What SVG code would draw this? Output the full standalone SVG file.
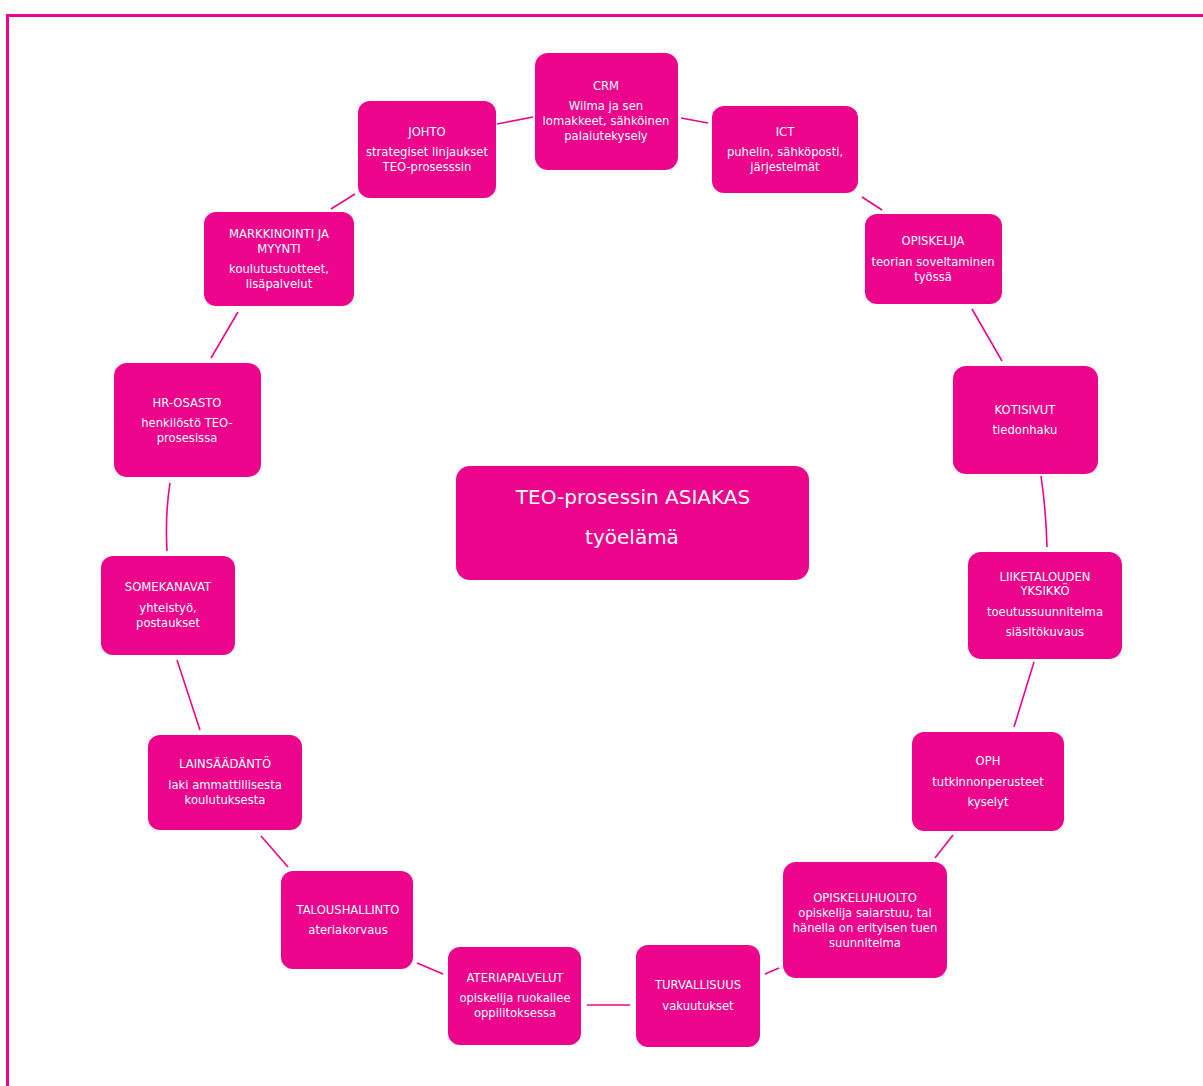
<svg xmlns="http://www.w3.org/2000/svg" width="1203" height="1086" viewBox="0 0 1203 1086">
<style>
.n{fill:#EC058C;}
.t{fill:#ffffff;font-family:"DejaVu Sans",sans-serif;font-size:11.6px;text-anchor:middle;}
.c{fill:#ffffff;font-family:"DejaVu Sans",sans-serif;font-size:20px;text-anchor:middle;}
.e{stroke:#EC058C;stroke-width:1.6;fill:none;}
</style>
<rect x="0" y="0" width="1203" height="1086" fill="#ffffff"/>
<path d="M7.5 1086 V15.5 H1203" stroke="#EC058C" stroke-width="3" fill="none"/>
<g id="connectors">
<line class="e" x1="497" y1="124" x2="533" y2="117"/>
<line class="e" x1="681" y1="118" x2="708" y2="123"/>
<line class="e" x1="862" y1="197" x2="882" y2="210"/>
<line class="e" x1="972" y1="309" x2="1002" y2="361"/>
<path class="e" d="M1041 476 Q1046 510 1047 547"/>
<line class="e" x1="1034" y1="662" x2="1014" y2="727"/>
<line class="e" x1="953" y1="835" x2="935" y2="858"/>
<line class="e" x1="779" y1="968" x2="765" y2="974"/>
<line class="e" x1="587" y1="1005" x2="630" y2="1005"/>
<line class="e" x1="417" y1="963" x2="443" y2="974"/>
<line class="e" x1="261" y1="836" x2="288" y2="867"/>
<line class="e" x1="177" y1="660" x2="200" y2="730"/>
<path class="e" d="M170 483 Q165 515 167 551"/>
<line class="e" x1="211" y1="358" x2="238" y2="312"/>
<line class="e" x1="331" y1="209" x2="355" y2="194"/>
</g>
<g id="center">
<rect class="n" x="456" y="466" width="353" height="114" rx="14"/>
<text class="c" x="633" y="504">TEO-prosessin ASIAKAS</text>
<text class="c" x="632" y="544">työelämä</text>
</g>
<g id="crm">
<rect class="n" x="535" y="53" width="143" height="117" rx="13"/>
<text class="t" x="606" y="90">CRM</text>
<text class="t" x="606" y="110">Wilma ja sen</text>
<text class="t" x="606" y="125">lomakkeet, sähköinen</text>
<text class="t" x="606" y="140">palaiutekysely</text>
</g>
<g id="johto">
<rect class="n" x="358" y="101" width="138" height="97" rx="12"/>
<text class="t" x="427" y="136">JOHTO</text>
<text class="t" x="427" y="156">strategiset linjaukset</text>
<text class="t" x="427" y="171">TEO-prosesssin</text>
</g>
<g id="ict">
<rect class="n" x="712" y="106" width="146" height="87" rx="12"/>
<text class="t" x="785" y="136">ICT</text>
<text class="t" x="785" y="156">puhelin, sähköposti,</text>
<text class="t" x="785" y="171">järjestelmät</text>
</g>
<g id="markkinointi">
<rect class="n" x="204" y="212" width="150" height="94" rx="12"/>
<text class="t" x="279" y="238">MARKKINOINTI JA</text>
<text class="t" x="279" y="253">MYYNTI</text>
<text class="t" x="279" y="273">koulutustuotteet,</text>
<text class="t" x="279" y="288">lisäpalvelut</text>
</g>
<g id="opiskelija">
<rect class="n" x="865" y="214" width="137" height="90" rx="12"/>
<text class="t" x="933" y="245">OPISKELIJA</text>
<text class="t" x="933" y="266">teorian soveltaminen</text>
<text class="t" x="933" y="281">työssä</text>
</g>
<g id="hr">
<rect class="n" x="114" y="363" width="147" height="114" rx="13"/>
<text class="t" x="187" y="407">HR-OSASTO</text>
<text class="t" x="187" y="427">henkilöstö TEO-</text>
<text class="t" x="187" y="442">prosesissa</text>
</g>
<g id="kotisivut">
<rect class="n" x="953" y="366" width="145" height="108" rx="13"/>
<text class="t" x="1025" y="414">KOTISIVUT</text>
<text class="t" x="1025" y="434">tiedonhaku</text>
</g>
<g id="somekanavat">
<rect class="n" x="101" y="556" width="134" height="99" rx="12"/>
<text class="t" x="168" y="591">SOMEKANAVAT</text>
<text class="t" x="168" y="612">yhteistyö,</text>
<text class="t" x="168" y="627">postaukset</text>
</g>
<g id="liiketalous">
<rect class="n" x="968" y="552" width="154" height="107" rx="13"/>
<text class="t" x="1045" y="581">LIIKETALOUDEN</text>
<text class="t" x="1045" y="595">YKSIKKÖ</text>
<text class="t" x="1045" y="616">toeutussuunnitelma</text>
<text class="t" x="1045" y="636">siäsltökuvaus</text>
</g>
<g id="lainsaadanto">
<rect class="n" x="148" y="735" width="154" height="95" rx="12"/>
<text class="t" x="225" y="768">LAINSÄÄDÄNTÖ</text>
<text class="t" x="225" y="789">laki ammattillisesta</text>
<text class="t" x="225" y="804">koulutuksesta</text>
</g>
<g id="oph">
<rect class="n" x="912" y="732" width="152" height="99" rx="12"/>
<text class="t" x="988" y="765">OPH</text>
<text class="t" x="988" y="786">tutkinnonperusteet</text>
<text class="t" x="988" y="806">kyselyt</text>
</g>
<g id="taloushallinto">
<rect class="n" x="281" y="871" width="132" height="98" rx="12"/>
<text class="t" x="348" y="914">TALOUSHALLINTO</text>
<text class="t" x="348" y="934">ateriakorvaus</text>
</g>
<g id="opiskeluhuolto">
<rect class="n" x="783" y="862" width="164" height="116" rx="13"/>
<text class="t" x="865" y="902">OPISKELUHUOLTO</text>
<text class="t" x="865" y="917">opiskelija saiarstuu, tai</text>
<text class="t" x="865" y="932">hänella on erityisen tuen</text>
<text class="t" x="865" y="947">suunnitelma</text>
</g>
<g id="ateriapalvelut">
<rect class="n" x="448" y="947" width="133" height="98" rx="12"/>
<text class="t" x="515" y="982">ATERIAPALVELUT</text>
<text class="t" x="515" y="1002">opiskelija ruokailee</text>
<text class="t" x="515" y="1017">oppilitoksessa</text>
</g>
<g id="turvallisuus">
<rect class="n" x="636" y="945" width="124" height="102" rx="12"/>
<text class="t" x="698" y="989">TURVALLISUUS</text>
<text class="t" x="698" y="1010">vakuutukset</text>
</g>
</svg>
